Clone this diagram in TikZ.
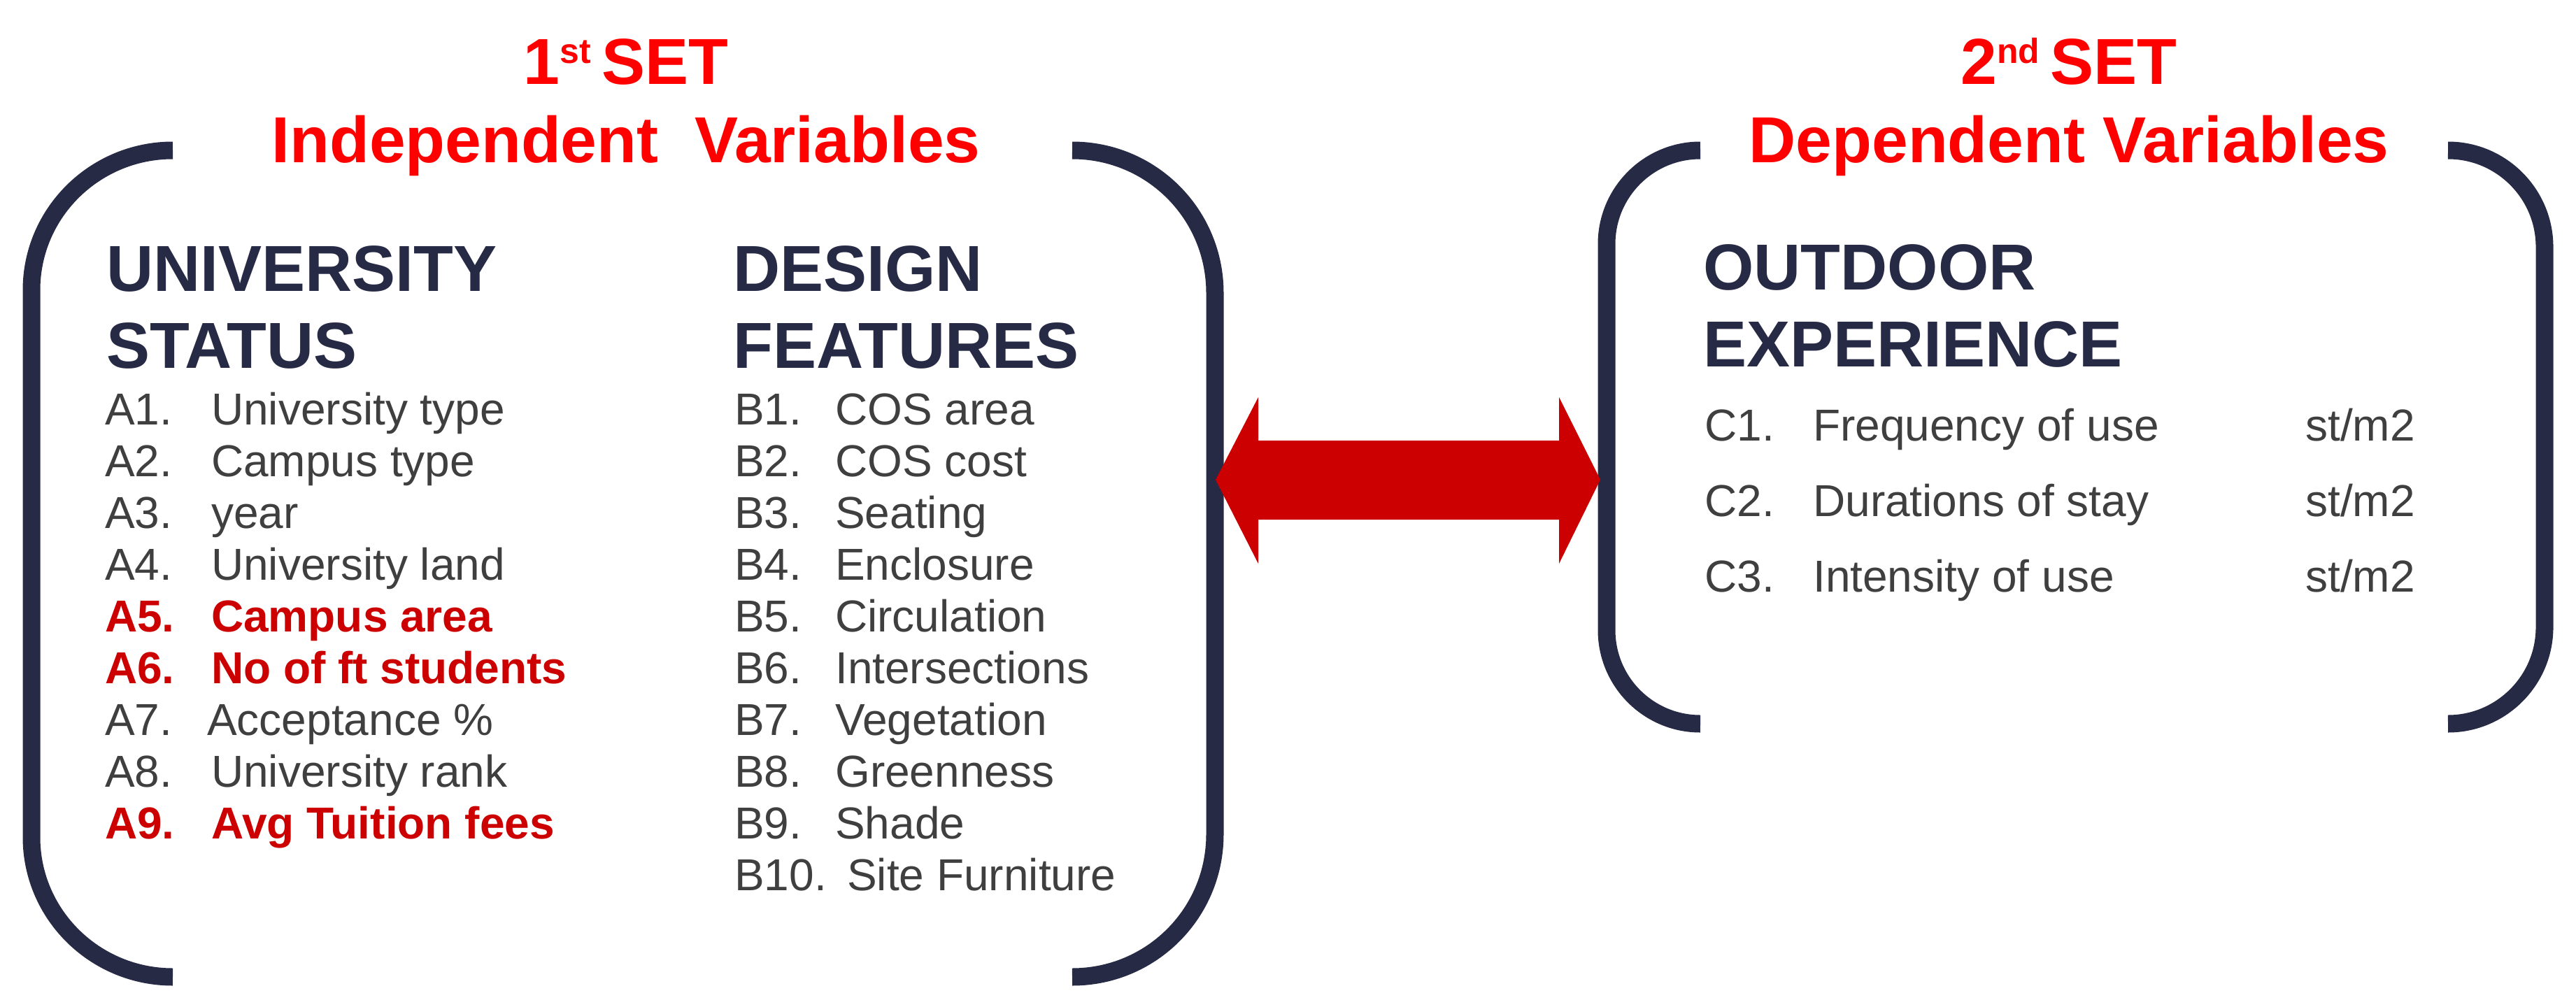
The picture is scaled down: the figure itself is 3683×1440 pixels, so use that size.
\documentclass[tikz,border=0pt]{standalone}
\usepackage{fontspec}
\setmainfont{Liberation Sans}
\definecolor{navy}{HTML}{262A45}
\definecolor{itemgray}{HTML}{3F3F3F}
\definecolor{darkred}{HTML}{CC0000}
\definecolor{titlered}{HTML}{FF0000}
\newcommand{\supx}[1]{\raisebox{30pt}{\fontsize{50}{50}\selectfont #1}}
\tikzset{
  brk/.style={draw=navy, line width=25pt, line cap=butt, line join=round},
  ttl/.style={anchor=base, text=titlered, font=\bfseries\fontsize{93}{100}\selectfont, inner sep=0pt},
  hd/.style={anchor=base west, text=navy, font=\bfseries\fontsize{93}{100}\selectfont, inner sep=0pt},
  itm/.style={anchor=base west, text=itemgray, font=\fontsize{64}{70}\selectfont, inner sep=0pt},
  itmr/.style={anchor=base west, text=darkred, font=\bfseries\fontsize{64}{70}\selectfont, inner sep=0pt},
  bigarrow/.style={fill=darkred, draw=none}
}
\begin{document}
\begin{tikzpicture}[x=1pt,y=-1pt]
\useasboundingbox (0,0) rectangle (3683,1440);
\fill[white] (0,0) rectangle (3683,1440);

% brackets of the first set
\draw[brk] (247,215) .. controls (136,215) and (45,304) .. (45,415) -- (45,1197) .. controls (45,1308) and (136,1397) .. (247,1397);
\draw[brk] (1533,215) .. controls (1646,215) and (1737,306) .. (1737,419) -- (1737,1193) .. controls (1737,1306) and (1646,1397) .. (1533,1397);
% brackets of the second set
\draw[brk] (2431,215) .. controls (2357,215) and (2297,275) .. (2297,349) -- (2297,901) .. controls (2297,975) and (2357,1035) .. (2431,1035);
\draw[brk] (3500,215) .. controls (3576,215) and (3638,277) .. (3638,353) -- (3638,897) .. controls (3638,973) and (3576,1035) .. (3500,1035);

% double arrow
\coordinate (lt) at (1738,686);
\coordinate (rt) at (2288,686);
\fill[bigarrow] (lt) -- (1799,568) -- (1799,630) -- (2229,630) -- (2229,568) -- (rt) -- (2229,806) -- (2229,743) -- (1799,743) -- (1799,806) -- cycle;

% titles
\node[ttl] (t1a) at (895,120) {1\supx{st}\,SET};
\node[ttl] (t1b) at (895,232) {Independent\ \ Variables};
\node[ttl] (t2a) at (2958,120) {2\supx{nd}\,SET};
\node[ttl] (t2b) at (2958,232) {Dependent Variables};

% headings
\node[hd] (ha1) at (152,416) {UNIVERSITY};
\node[hd] (ha2) at (152,526) {STATUS};
\node[hd] (hb1) at (1048,416) {DESIGN};
\node[hd] (hb2) at (1048,526) {FEATURES};
\node[hd] (hc1) at (2435,414) {OUTDOOR};
\node[hd] (hc2) at (2435,524) {EXPERIENCE};

% A items
\node[itm]  (la1) at (150,607) {A1.};   \node[itm]  (a1) at (302,607) {University type};
\node[itm]  (la2) at (150,681) {A2.};   \node[itm]  (a2) at (302,681) {Campus type};
\node[itm]  (la3) at (150,755) {A3.};   \node[itm]  (a3) at (302,755) {year};
\node[itm]  (la4) at (150,829) {A4.};   \node[itm]  (a4) at (302,829) {University land};
\node[itmr] (la5) at (150,903) {A5.};   \node[itmr] (a5) at (302,903) {Campus area};
\node[itmr] (la6) at (150,977) {A6.};   \node[itmr] (a6) at (302,977) {No of ft students};
\node[itm]  (la7) at (150,1051) {A7.};  \node[itm]  (a7) at (296,1051) {Acceptance \%};
\node[itm]  (la8) at (150,1125) {A8.};  \node[itm]  (a8) at (302,1125) {University rank};
\node[itmr] (la9) at (150,1199) {A9.};  \node[itmr] (a9) at (302,1199) {Avg Tuition fees};

% B items
\node[itm] (lb1) at (1050,607) {B1.};    \node[itm] (b1) at (1194,607) {COS area};
\node[itm] (lb2) at (1050,681) {B2.};    \node[itm] (b2) at (1194,681) {COS cost};
\node[itm] (lb3) at (1050,755) {B3.};    \node[itm] (b3) at (1194,755) {Seating};
\node[itm] (lb4) at (1050,829) {B4.};    \node[itm] (b4) at (1194,829) {Enclosure};
\node[itm] (lb5) at (1050,903) {B5.};    \node[itm] (b5) at (1194,903) {Circulation};
\node[itm] (lb6) at (1050,977) {B6.};    \node[itm] (b6) at (1194,977) {Intersections};
\node[itm] (lb7) at (1050,1051) {B7.};   \node[itm] (b7) at (1194,1051) {Vegetation};
\node[itm] (lb8) at (1050,1125) {B8.};   \node[itm] (b8) at (1194,1125) {Greenness};
\node[itm] (lb9) at (1050,1199) {B9.};   \node[itm] (b9) at (1194,1199) {Shade};
\node[itm] (lb10) at (1050,1273) {B10.}; \node[itm] (b10) at (1211,1273) {Site Furniture};

% C items
\node[itm] (lc1) at (2437,630) {C1.}; \node[itm] (c1) at (2592,630) {Frequency of use};    \node[itm] (u1) at (3296,630) {st/m2};
\node[itm] (lc2) at (2437,738) {C2.}; \node[itm] (c2) at (2592,738) {Durations of stay};   \node[itm] (u2) at (3296,738) {st/m2};
\node[itm] (lc3) at (2437,846) {C3.}; \node[itm] (c3) at (2592,846) {Intensity of use};    \node[itm] (u3) at (3296,846) {st/m2};
\end{tikzpicture}
\end{document}
